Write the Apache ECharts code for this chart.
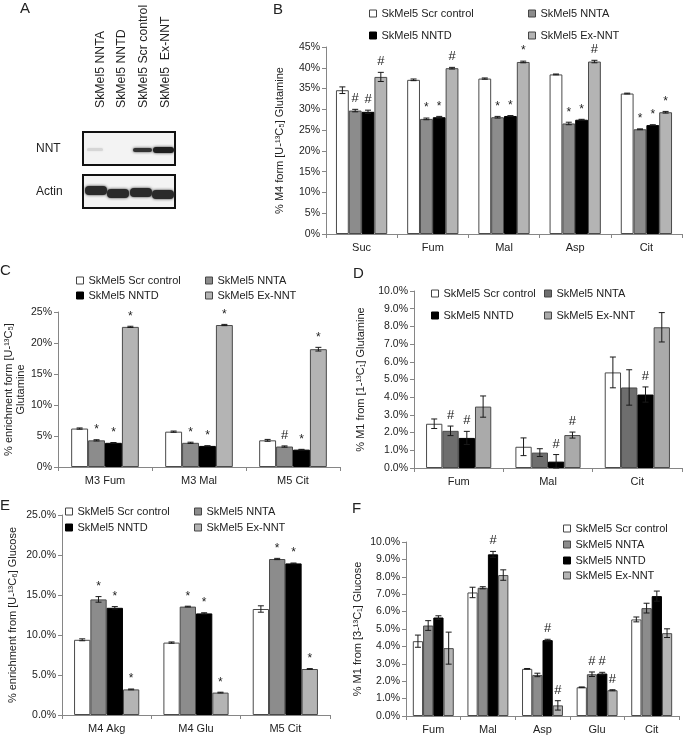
<!DOCTYPE html>
<html><head><meta charset="utf-8">
<script src="https://cdn.jsdelivr.net/npm/echarts@6/dist/echarts.min.js"></script>
<style>html,body{margin:0;padding:0;background:#fff}#c{width:683px;height:735px}</style>
</head><body><div id="c"></div><script>
// ---------- DATA ----------
const seriesNames = ['SkMel5 Scr control', 'SkMel5 NNTA', 'SkMel5 NNTD', 'SkMel5 Ex-NNT'];
const laneLabels = ['SkMel5 NNTA', 'SkMel5 NNTD', 'SkMel5 Scr control', 'SkMel5  Ex-NNT'];

// Panel B
const catB = ['Suc', 'Fum', 'Mal', 'Asp', 'Cit'];
const scrB  = [34.6, 37.1, 37.4, 38.4, 33.8];
const nntaB = [29.7, 27.7, 28.1, 26.6, 25.2];
const nntdB = [29.4, 28.1, 28.4, 27.5, 26.2];
const exB   = [37.8, 39.9, 41.4, 41.5, 29.3];
const scrErrB  = [0.8, 0.2, 0.15, 0.1, 0.1];
const nntaErrB = [0.3, 0.2, 0.2, 0.3, 0.1];
const nntdErrB = [0.4, 0.2, 0.1, 0.1, 0.1];
const exErrB   = [1.1, 0.2, 0.2, 0.3, 0.2];
const scrSigB  = ['', '', '', '', ''];
const nntaSigB = ['#', '*', '*', '*', '*'];
const nntdSigB = ['#', '*', '*', '*', '*'];
const exSigB   = ['#', '#', '*', '#', '*'];

// Panel C
const catC = ['M3 Fum', 'M3 Mal', 'M5 Cit'];
const scrC  = [6.2, 5.7, 4.3];
const nntaC = [4.3, 3.9, 3.3];
const nntdC = [3.9, 3.4, 2.8];
const exC   = [22.6, 22.9, 19.0];
const scrErrC  = [0.1, 0.1, 0.15];
const nntaErrC = [0.1, 0.1, 0.1];
const nntdErrC = [0.05, 0.02, 0.05];
const exErrC   = [0.1, 0.1, 0.3];
const scrSigC  = ['', '', ''];
const nntaSigC = ['*', '*', '#'];
const nntdSigC = ['*', '*', '*'];
const exSigC   = ['*', '*', '*'];

// Panel D
const catD = ['Fum', 'Mal', 'Cit'];
const scrD  = [2.5, 1.2, 5.4];
const nntaD = [2.1, 0.87, 4.55];
const nntdD = [1.7, 0.36, 4.15];
const exD   = [3.47, 1.86, 7.95];
const scrErrD  = [0.27, 0.5, 0.87];
const nntaErrD = [0.27, 0.22, 1.0];
const nntdErrD = [0.37, 0.4, 0.43];
const exErrD   = [0.6, 0.17, 0.83];
const scrSigD  = ['', '', ''];
const nntaSigD = ['#', '', ''];
const nntdSigD = ['#', '#', '#'];
const exSigD   = ['', '#', ''];

// Panel E
const catE = ['M4 Akg', 'M4 Glu', 'M5 Cit'];
const scrE  = [9.4, 9.05, 13.25];
const nntaE = [14.45, 13.55, 19.5];
const nntdE = [13.4, 12.7, 18.95];
const exE   = [3.2, 2.8, 5.75];
const scrErrE  = [0.12, 0.08, 0.4];
const nntaErrE = [0.35, 0.05, 0.08];
const nntdErrE = [0.15, 0.08, 0.05];
const exErrE   = [0.05, 0.05, 0.05];
const scrSigE  = ['', '', ''];
const nntaSigE = ['*', '*', '*'];
const nntdSigE = ['*', '*', '*'];
const exSigE   = ['*', '*', '*'];

// Panel F
const catF = ['Fum', 'Mal', 'Asp', 'Glu', 'Cit'];
const scrF  = [4.3, 7.1, 2.71, 1.65, 5.55];
const nntaF = [5.2, 7.37, 2.36, 2.4, 6.2];
const nntdF = [5.66, 9.29, 4.36, 2.44, 6.89];
const exF   = [3.9, 8.1, 0.61, 1.48, 4.76];
const scrErrF  = [0.35, 0.3, 0.02, 0.02, 0.14];
const nntaErrF = [0.28, 0.06, 0.1, 0.13, 0.28];
const nntdErrF = [0.1, 0.17, 0.05, 0.07, 0.29];
const exErrF   = [0.92, 0.3, 0.27, 0.03, 0.25];
const scrSigF  = ['', '', '', '', ''];
const nntaSigF = ['', '', '', '#', ''];
const nntdSigF = ['', '#', '#', '#', ''];
const exSigF   = ['', '', '#', '#', ''];

// ---------- STYLE / LAYOUT ----------
const FONT = "'Liberation Sans', Arial, sans-serif";
const TXT = '#222';
const AX = '#868686';
const colorsStd = ['#ffffff', '#8c8c8c', '#000000', '#b4b4b4'];
const colorsD   = ['#ffffff', '#6e6e6e', '#000000', '#aaaaaa'];

const panels = [
  { cats: catB, vals: [scrB, nntaB, nntdB, exB], errs: [scrErrB, nntaErrB, nntdErrB, exErrB], sigs: [scrSigB, nntaSigB, nntdSigB, exSigB],
    grid: { left: 326, top: 47, width: 356, height: 187 }, max: 45, interval: 5, dec: 0, gap: 0.28,
    yname: '% M4 form [U-¹³C₅] Glutamine', nameGap: 40, colors: colorsStd,
    legend: [[369, 15], [528, 15], [369, 37], [528, 37]] },
  { cats: catC, vals: [scrC, nntaC, nntdC, exC], errs: [scrErrC, nntaErrC, nntdErrC, exErrC], sigs: [scrSigC, nntaSigC, nntdSigC, exSigC],
    grid: { left: 58, top: 312, width: 282, height: 155 }, max: 25, interval: 5, dec: 0, gap: 0.28,
    yname: '% enrichment form [U-¹³C₅]\nGlutamine', nameGap: 28, colors: colorsStd,
    legend: [[76, 282], [205, 282], [76, 297], [205, 297]] },
  { cats: catD, vals: [scrD, nntaD, nntdD, exD], errs: [scrErrD, nntaErrD, nntdErrD, exErrD], sigs: [scrSigD, nntaSigD, nntdSigD, exSigD],
    grid: { left: 414, top: 291, width: 268, height: 177 }, max: 10, interval: 1, dec: 1, gap: 0.27,
    yname: '% M1 from [1-¹³C₁] Glutamine', nameGap: 47, colors: colorsD,
    legend: [[431, 295], [544, 295], [431, 317], [544, 317]] },
  { cats: catE, vals: [scrE, nntaE, nntdE, exE], errs: [scrErrE, nntaErrE, nntdErrE, exErrE], sigs: [scrSigE, nntaSigE, nntdSigE, exSigE],
    grid: { left: 62, top: 515, width: 268, height: 200 }, max: 25, interval: 5, dec: 1, gap: 0.27,
    yname: '% enrichment from [U-¹³C₆] Glucose', nameGap: 43, colors: colorsStd,
    legend: [[65, 513], [194, 513], [65, 529], [194, 529]] },
  { cats: catF, vals: [scrF, nntaF, nntdF, exF], errs: [scrErrF, nntaErrF, nntdErrF, exErrF], sigs: [scrSigF, nntaSigF, nntdSigF, exSigF],
    grid: { left: 406, top: 542, width: 273, height: 174 }, max: 10, interval: 1, dec: 1, gap: 0.25,
    yname: '% M1 from [3-¹³C₁] Glucose', nameGap: 42, colors: colorsStd,
    legend: [[563, 530], [563, 546], [563, 562], [563, 577]] }
];

const grid = [], xAxis = [], yAxis = [], series = [], legend = [];

panels.forEach((p, pi) => {
  grid.push(Object.assign({ containLabel: false }, p.grid));
  xAxis.push({
    type: 'category', gridIndex: pi, data: p.cats,
    axisLine: { lineStyle: { color: AX } },
    axisTick: { show: true, length: 4, lineStyle: { color: AX } },
    axisLabel: { interval: 0, fontSize: 11, color: TXT, fontFamily: FONT, margin: 8 }
  });
  yAxis.push({
    type: 'value', gridIndex: pi, min: 0, max: p.max, interval: p.interval,
    axisLine: { show: true, lineStyle: { color: AX } },
    axisTick: { show: true, length: 4, lineStyle: { color: AX } },
    splitLine: { show: false },
    axisLabel: { fontSize: 10.5, color: TXT, fontFamily: FONT, margin: 6,
      formatter: (v) => v.toFixed(p.dec) + '%' },
    name: p.yname, nameLocation: 'middle', nameGap: p.nameGap,
    nameTextStyle: { fontSize: 11, color: TXT, fontFamily: FONT, lineHeight: 12 }
  });
  for (let k = 0; k < 4; k++) {
    series.push({
      type: 'bar', name: seriesNames[k], xAxisIndex: pi, yAxisIndex: pi,
      data: p.vals[k], barGap: '0%', barCategoryGap: (p.gap * 100) + '%',
      itemStyle: { color: p.colors[k], borderColor: k === 2 ? '#000' : '#4a4a4a', borderWidth: 1 },
      silent: true, animation: false
    });
    const vals = p.vals[k], errs = p.errs[k], sigs = p.sigs[k], gap = p.gap;
    series.push({
      type: 'custom', xAxisIndex: pi, yAxisIndex: pi, z: 5, silent: true, animation: false,
      data: vals.map((v, i) => [i, v, errs[i]]),
      renderItem: function (params, api) {
        const i = api.value(0), v = api.value(1), e = api.value(2);
        const catW = api.size([1, 0])[0];
        const groupW = catW * (1 - gap);
        const bw = groupW / 4;
        const cx = api.coord([i, 0])[0] - groupW / 2 + bw * (k + 0.5);
        const yT = api.coord([i, v + e])[1], yB = api.coord([i, Math.max(0, v - e)])[1];
        const cap = 3;
        const st = { stroke: '#1a1a1a', lineWidth: 1 };
        const ch = [
          { type: 'line', shape: { x1: cx, y1: yT, x2: cx, y2: yB }, style: st },
          { type: 'line', shape: { x1: cx - cap, y1: yT, x2: cx + cap, y2: yT }, style: st },
          { type: 'line', shape: { x1: cx - cap, y1: yB, x2: cx + cap, y2: yB }, style: st }
        ];
        const s = sigs[params.dataIndex];
        if (s) {
          ch.push({ type: 'text', x: cx, y: yT - 4,
            style: { text: s, fill: TXT, fontSize: s === '#' ? 13 : 12, fontFamily: FONT, align: 'center', verticalAlign: 'bottom' } });
        }
        return { type: 'group', children: ch };
      }
    });
  }
  p.legend.forEach((pos, k) => {
    legend.push({
      left: pos[0], top: pos[1] - 7, padding: 0, itemWidth: 7, itemHeight: 7, itemGap: 0,
      icon: 'rect', selectedMode: false,
      data: [{ name: seriesNames[k], itemStyle: { color: p.colors[k], borderColor: k === 2 ? '#000' : '#444', borderWidth: 1 } }],
      textStyle: { fontSize: 11, color: TXT, fontFamily: FONT }
    });
  });
});

// ---------- Panel A (western blot illustration) + panel letters ----------
const graphic = [];
const letters = [['A', 20, 1], ['B', 273, 2], ['C', 0, 263], ['D', 353, 266], ['E', 0, 498], ['F', 352, 501]];
letters.forEach(l => graphic.push({ type: 'text', left: l[1], top: l[2],
  style: { text: l[0], font: '15px "Liberation Sans", Arial, sans-serif', fill: TXT } }));
const laneX = [100.5, 122, 143.5, 165.5];
laneLabels.forEach((t, i) => graphic.push({ type: 'text', x: laneX[i], y: 108, rotation: Math.PI / 2,
  style: { text: t, font: '12.3px "Liberation Sans", Arial, sans-serif', fill: TXT, align: 'left', verticalAlign: 'middle' } }));
graphic.push({ type: 'text', left: 36, top: 143, style: { text: 'NNT', font: '12px "Liberation Sans", Arial, sans-serif', fill: TXT } });
graphic.push({ type: 'text', left: 36, top: 186, style: { text: 'Actin', font: '12px "Liberation Sans", Arial, sans-serif', fill: TXT } });
graphic.push({ type: 'rect', shape: { x: 83, y: 132, width: 92, height: 33 }, style: { fill: '#f3f3f3', stroke: '#111', lineWidth: 2 } });
graphic.push({ type: 'rect', shape: { x: 83, y: 175, width: 92, height: 33 }, style: { fill: '#f3f3f3', stroke: '#111', lineWidth: 2 } });
// NNT bands
graphic.push({ type: 'rect', shape: { x: 87, y: 148, width: 16, height: 3, r: 1.5 }, style: { fill: '#d6d6d6', shadowBlur: 2, shadowColor: '#ddd' } });
graphic.push({ type: 'rect', shape: { x: 133, y: 148, width: 19, height: 4, r: 2 }, style: { fill: '#333', shadowBlur: 3, shadowColor: '#444' } });
graphic.push({ type: 'rect', shape: { x: 153, y: 147, width: 21, height: 6, r: 3 }, style: { fill: '#1e1e1e', shadowBlur: 3, shadowColor: '#333' } });
// Actin bands
[[85, 186], [107, 189], [130, 188], [152, 190]].forEach(b => graphic.push({ type: 'rect',
  shape: { x: b[0], y: b[1], width: 22, height: 9, r: 4 }, style: { fill: '#2a2a2a', shadowBlur: 3, shadowColor: '#333' } }));

const chart = echarts.init(document.getElementById('c'), null, { renderer: 'canvas' });
chart.setOption({
  backgroundColor: '#fff', animation: false,
  textStyle: { fontFamily: FONT },
  grid, xAxis, yAxis, series, legend, graphic
});
</script></body></html>
